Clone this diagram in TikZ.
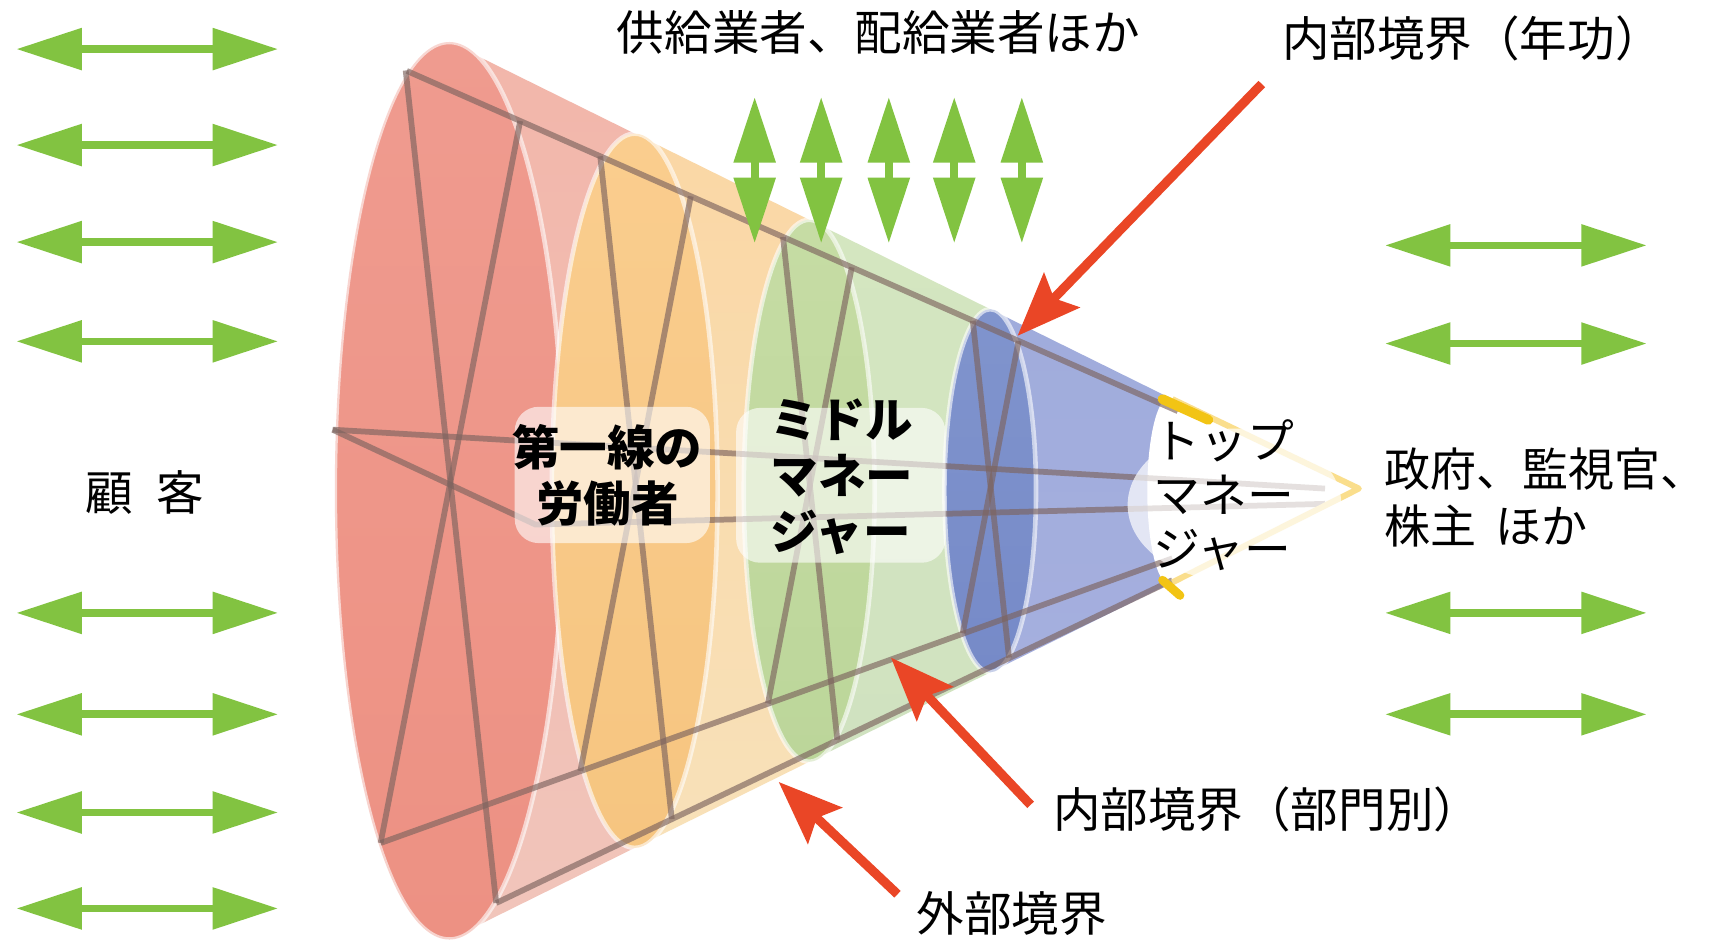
\documentclass[tikz,border=0pt]{standalone}
\usepackage{fontspec}
\setmainfont{Noto Sans CJK JP}
\usetikzlibrary{arrows.meta}
\definecolor{arrgreen}{RGB}{130,195,65}
\definecolor{arrred}{RGB}{234,70,38}
\definecolor{wire}{RGB}{125,100,95}
\definecolor{tipyellow}{RGB}{250,222,140}
\definecolor{strongyellow}{RGB}{242,196,20}
\begin{document}
\begin{tikzpicture}[x=0.01cm,y=-0.01cm,
  lbl/.style={font=\fontsize{12.4}{14.8}\selectfont, inner sep=0pt, anchor=west},
  conelbl/.style={font=\fontsize{12.4}{14.6}\selectfont\bfseries, inner sep=0pt, align=left},
  toplbl/.style={font=\fontsize{12.2}{14}\selectfont, inner sep=0pt, align=left},
  garrow/.style={draw=arrgreen, line width=2pt, {Triangle[length=0.6cm,width=0.37cm]}-{Triangle[length=0.6cm,width=0.37cm]}},
  rarrow/.style={draw=arrred, line width=2.4pt, -{Stealth[length=0.58cm,width=0.45cm,inset=0.1cm]}},
  wireline/.style={draw=wire, line width=1.5pt, opacity=.65},
  rim/.style={draw=white, line width=1.2pt, draw opacity=.6},
  glow/.style={fill=white, fill opacity=.6},
]
\useasboundingbox (0,0) rectangle (1568,863);
\fill[white] (0,0) rectangle (1568,863);

% ---------- frustums ----------
\shade[top color={rgb,255:red,242;green,182;blue,170}, middle color={rgb,255:red,248;green,217;blue,208}, bottom color={rgb,255:red,241;green,197;blue,187}]
  (412,38.5) -- (582,122.5) -- (582,777.5) -- (412,861.5) -- cycle;
\shade[top color={rgb,255:red,250;green,215;blue,165}, middle color={rgb,255:red,253;green,235;blue,205}, bottom color={rgb,255:red,248;green,225;blue,185}]
  (582,122.5) -- (742,201.5) -- (742,698.5) -- (582,777.5) -- cycle;
\shade[top color={rgb,255:red,212;green,230;blue,192}, middle color={rgb,255:red,232;green,242;blue,222}, bottom color={rgb,255:red,208;green,226;blue,192}]
  (742,201.5) -- (908,283.5) -- (908,616.5) -- (742,698.5) -- cycle;
\shade[top color={rgb,255:red,160;green,172;blue,220}, middle color={rgb,255:red,202;green,208;blue,238}, bottom color={rgb,255:red,165;green,175;blue,222}]
  (908,283.5) -- (1072,364.5) -- (1072,535.5) -- (908,616.5) -- cycle;
\fill[white] (1072,364.5) -- (1246,450) -- (1072,535.5) -- cycle;

% ---------- section faces ----------
\shade[rim, top color={rgb,255:red,239;green,155;blue,143}, middle color={rgb,255:red,246;green,198;blue,188}, bottom color={rgb,255:red,237;green,145;blue,131}]
  (412,450) ellipse [x radius=105, y radius=411.5];
\shade[rim, top color={rgb,255:red,250;green,205;blue,142}, middle color={rgb,255:red,252;green,223;blue,175}, bottom color={rgb,255:red,246;green,197;blue,128}]
  (582,450) ellipse [x radius=76, y radius=327.5];
\shade[rim, top color={rgb,255:red,198;green,220;blue,164}, middle color={rgb,255:red,214;green,232;blue,190}, bottom color={rgb,255:red,188;green,214;blue,154}]
  (742,450) ellipse [x radius=60, y radius=248.5];
\shade[rim, top color={rgb,255:red,128;green,148;blue,205}, middle color={rgb,255:red,158;green,172;blue,220}, bottom color={rgb,255:red,118;green,138;blue,200}]
  (908,450) ellipse [x radius=42, y radius=166.5];
\fill[white] (1072,450) ellipse [x radius=20, y radius=85.5];

% ---------- wireframe ----------
\draw[wireline] (373,65) -- (1080,377);
\draw[wireline] (349,773) -- (1075,512);
\draw[wireline] (455,828) -- (1075,532);
\draw[wireline] (305,394) -- (1215,448);
\draw[wireline] (305,394) -- (491,481) -- (1215,462);
% X lines of each section
\draw[wireline] (372,64.6) -- (455,828);
\draw[wireline] (477,110.9) -- (349,773);
\draw[wireline] (550.4,143.3) -- (616,751);
\draw[wireline] (633.4,180) -- (532.2,707);
\draw[wireline] (718,217.3) -- (767.8,678.3);
\draw[wireline] (781,245.1) -- (704.2,645);
\draw[wireline] (892,294.1) -- (925.2,603);
\draw[wireline] (934,312.7) -- (882.8,580.6);

% ---------- tip outline ----------
\draw[tipyellow, line width=0.055cm, line join=round] (1075,366) -- (1246,448) -- (1075,534);
\draw[strongyellow, line width=0.09cm, line cap=round] (1066,366) -- (1108,385);
\draw[strongyellow, line width=0.08cm, line cap=round] (1066,532) -- (1082,546);

% ---------- glows ----------
\fill[glow, rounded corners=0.22cm] (472,373) rectangle (651,498);
\fill[glow, rounded corners=0.22cm] (675,374) rectangle (867,516);
\fill[white, fill opacity=.7] (1132,463) ellipse [x radius=98, y radius=70];

% ---------- cone labels ----------
\node[conelbl, align=center] (worker) at (557,436) {第一線の\\労働者};
\node[conelbl] (middle) at (772,437) {ミドル\\マネー\\ジャー};
\node[toplbl] (topmgr) at (1122,454) {トップ\\マネー\\ジャー};

% ---------- outer labels ----------
\node[lbl] (kokyaku) at (78,452) {顧\hspace{0.48em}客};
\node[lbl] (supp) at (565,30) {供給業者、配給業者ほか};
\node[lbl] (nenko) at (1175,35) {内部境界（年功）};
\node[lbl, align=left, font=\fontsize{12}{14.8}\selectfont] (gov) at (1269,456) {政府、監視官、\\株主\hspace{0.4em}ほか};
\node[lbl] (bumon) at (965,742) {内部境界（部門別）};
\node[lbl] (gaibu) at (840,838) {外部境界};

% ---------- green arrows ----------
\foreach \y [count=\i] in {45,133,222,313,562,655,745,833} {
  \coordinate (gla\i) at (15,\y);
  \coordinate (glb\i) at (255,\y);
  \draw[garrow] (gla\i) -- (glb\i);
}
\foreach \y [count=\i] in {225,315,562,655} {
  \coordinate (gra\i) at (1270,\y);
  \coordinate (grb\i) at (1510,\y);
  \draw[garrow] (gra\i) -- (grb\i);
}
\foreach \x [count=\i] in {692,753,815,875,937} {
  \coordinate (gva\i) at (\x,89);
  \coordinate (gvb\i) at (\x,223);
  \draw[garrow] (gva\i) -- (gvb\i);
}

% ---------- red arrows ----------
\coordinate (ra1) at (1157,77);
\coordinate (rb1) at (933,308);
\coordinate (ra2) at (945,738);
\coordinate (rb2) at (817,603);
\coordinate (ra3) at (823,820);
\coordinate (rb3) at (714,717);
\draw[rarrow] (ra1) -- (rb1);
\draw[rarrow] (ra2) -- (rb2);
\draw[rarrow] (ra3) -- (rb3);
\end{tikzpicture}
\end{document}
